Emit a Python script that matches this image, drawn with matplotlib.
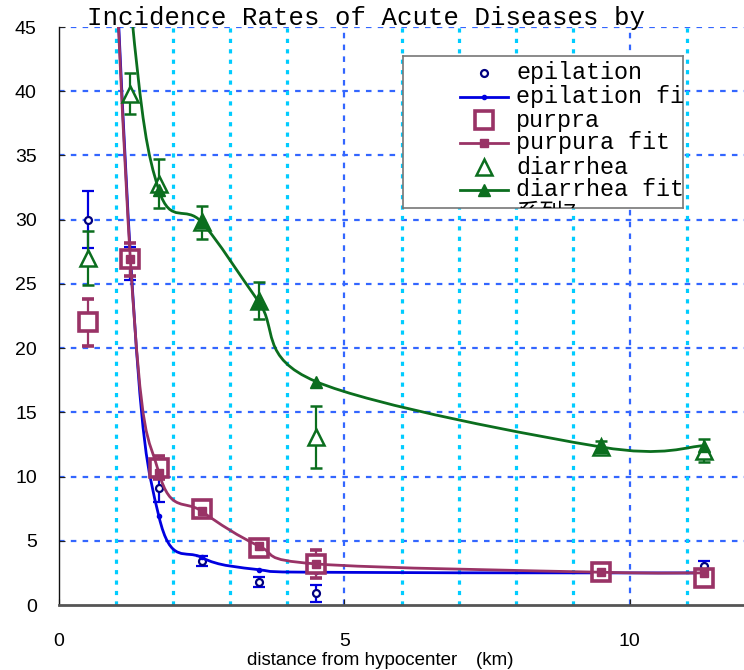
import numpy as np
import matplotlib
matplotlib.use("Agg")
import matplotlib.pyplot as plt
from matplotlib.path import Path
from matplotlib.patches import PathPatch

plt.rcParams['lines.scale_dashes'] = False

# distance from hypocenter (km)
dist = [0.5, 1.25, 1.75, 2.5, 3.5, 4.5, 9.5, 11.3]

# observed incidence (%) with error
epilation = [30.0, 26.6, 9.1, 3.4, 1.8, 0.9, 2.5, 3.0]
epilation_err = [2.2, 1.3, 1.1, 0.4, 0.4, 0.65, 0.25, 0.45]
purpura = [22.0, 26.9, 10.7, 7.5, 4.4, 3.2, 2.6, 2.1]
purpura_err = [1.8, 1.3, 0.9, 0.3, 0.3, 1.1, 0.2, 0.3]
diarrhea = [27.0, 39.8, 32.8, 29.8, 23.7, 13.1, 12.3, 12.0]
diarrhea_err = [2.1, 1.6, 1.9, 1.3, 1.45, 2.4, 0.45, 0.9]

# fitted curves
epilation_fit = [100.0, 27.3, 6.9, 3.7, 2.75, 2.55, 2.5, 2.5]
purpura_fit = [100.0, 26.9, 10.3, 7.3, 4.6, 3.2, 2.55, 2.5]
diarrhea_fit = [90.0, 47.0, 32.3, 29.8, 23.6, 17.4, 12.3, 12.4]

yticks = [0, 5, 10, 15, 20, 25, 30, 35, 40, 45]
xticks = [0, 5, 10]
legend_labels = ['epilation', 'epilation fit', 'purpra', 'purpura fit',
                 'diarrhea', 'diarrhea fit', '系列7']

BLUE = '#0000E0'
NAVY = '#000080'
PURP = '#993366'
GREEN = '#0B6E1E'


def smooth_path(xs, ys):
    # excel-like smoothed line (catmull-rom as bezier)
    p = np.column_stack([xs, ys]).astype(float)
    n = len(p)
    verts = [p[0]]
    codes = [Path.MOVETO]
    for i in range(n - 1):
        p0 = p[max(i - 1, 0)]
        p1 = p[i]
        p2 = p[i + 1]
        p3 = p[min(i + 2, n - 1)]
        verts += [p1 + (p2 - p0) / 6, p2 - (p3 - p1) / 6, p2]
        codes += [Path.CURVE4] * 3
    return Path(verts, codes)


fig = plt.figure(figsize=(7.44, 6.70), dpi=100)
ax = fig.add_axes([59/744, 65/670, 685/744, 578/670])

ax.set_xlim(0, 12)
ax.set_ylim(0, 45)
ax.set_xticks(xticks)
ax.set_yticks(yticks)

# grid: blue dashed horizontals, cyan dotted verticals every km, blue at 5 and 10
for y in yticks[1:]:
    ax.axhline(y, color='#3366FF', lw=1.6, ls=(0, (4, 4.5)), zorder=1)
for x in range(1, 12):
    if x % 5 == 0:
        ax.axvline(x, color='#3366FF', lw=1.6, ls=(0, (4, 4.5)), zorder=1)
    else:
        ax.axvline(x, color='#00CCFF', lw=2.3, ls=(0, (3, 4.5)), zorder=1)

for s in ['top', 'right']:
    ax.spines[s].set_visible(False)
ax.spines['left'].set_color('#111111')
ax.spines['left'].set_linewidth(1)
ax.spines['bottom'].set_color('#555555')
ax.spines['bottom'].set_linewidth(2)
ax.tick_params(axis='both', which='major', direction='in', length=4,
               color='#222222', labelsize=14)
ax.tick_params(axis='y', pad=16)
ax.tick_params(axis='x', pad=20)
for lab in ax.get_xticklabels() + ax.get_yticklabels():
    lab.set_family('Liberation Sans')

ax.set_xlabel('distance from hypocenter\u3000(km)', fontsize=13.5,
              family=['Liberation Sans', 'Noto Sans CJK JP'], va='top')
ax.xaxis.set_label_coords((380 - 59) / 685, -(652 - 605) / 578)

# epilation
ax.errorbar(dist, epilation, yerr=epilation_err, fmt='o', mfc='white', mec=NAVY,
            ms=5, mew=1.6, ecolor=BLUE, elinewidth=1.6, capsize=4, capthick=3,
            zorder=3)
ax.add_patch(PathPatch(smooth_path(dist, epilation_fit), fc='none', ec=BLUE,
                       lw=2, zorder=4))
ax.plot(dist, epilation_fit, ls='none', marker='o', ms=3, color=BLUE, zorder=4)

# purpura
ax.errorbar(dist, purpura, yerr=purpura_err, fmt='s', mfc='white', mec=PURP,
            ms=13, mew=2.6, ecolor=PURP, elinewidth=1.6, capsize=4, capthick=2,
            zorder=5)
ax.add_patch(PathPatch(smooth_path(dist, purpura_fit), fc='none', ec=PURP,
                       lw=2, zorder=6))
ax.plot(dist, purpura_fit, ls='none', marker='s', ms=5.5, color=PURP, zorder=6)

# diarrhea
ax.errorbar(dist, diarrhea, yerr=diarrhea_err, fmt='^', mfc='white', mec=GREEN,
            ms=11, mew=1.8, ecolor=GREEN, elinewidth=1.6, capsize=4, capthick=2,
            zorder=7)
ax.add_patch(PathPatch(smooth_path(dist, diarrhea_fit), fc='none', ec=GREEN,
                       lw=2, zorder=8))
ax.plot(dist, diarrhea_fit, ls='none', marker='^', ms=8, color=GREEN, zorder=8)

fig.text(87/744, 1 - 25/670, 'Incidence Rates of Acute Diseases by',
         family='Liberation Mono', fontsize=18.5, va='baseline', ha='left')

# legend box (clipped like the original)
lax = fig.add_axes([403/744, 1 - 208/670, 280/744, 152/670], zorder=10)
lax.set_facecolor('white')
lax.set_xticks([])
lax.set_yticks([])
for s in lax.spines.values():
    s.set_color('#777777')
    s.set_linewidth(1.2)
rows = [17, 41, 64, 87, 111, 134, 157]
styles = [
    dict(marker='o', ms=5, mfc='white', mec=NAVY, mew=1.6, line=None),
    dict(marker='o', ms=3, mfc=BLUE, mec=BLUE, mew=1, line=BLUE),
    dict(marker='s', ms=13, mfc='white', mec=PURP, mew=2.6, line=None),
    dict(marker='s', ms=5.5, mfc=PURP, mec=PURP, mew=1, line=PURP),
    dict(marker='^', ms=11, mfc='white', mec=GREEN, mew=1.8, line=None),
    dict(marker='^', ms=8, mfc=GREEN, mec=GREEN, mew=1, line=GREEN),
]
for y, st in zip(rows, styles):
    if st['line']:
        lax.plot([57, 105], [y, y], color=st['line'], lw=2)
    lax.plot([81], [y], ls='none', marker=st['marker'], ms=st['ms'],
             mfc=st['mfc'], mec=st['mec'], mew=st['mew'])
for y, lab in zip(rows, legend_labels):
    lax.text(113, y, lab, family=['Liberation Mono', 'Noto Sans CJK JP'],
             fontsize=16.8, va='center', ha='left', clip_on=True)
lax.set_xlim(0, 280)
lax.set_ylim(152, 0)

fig.savefig('out.png', dpi=100)
